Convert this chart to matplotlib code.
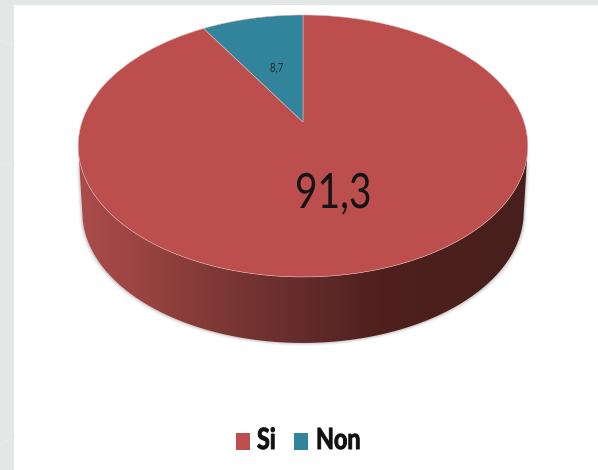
import numpy as np
import matplotlib
matplotlib.use("Agg")
import matplotlib.pyplot as plt
from matplotlib.colors import LinearSegmentedColormap
from matplotlib.patches import PathPatch, Rectangle
from matplotlib.path import Path
from matplotlib.patheffects import AbstractPathEffect
from matplotlib.transforms import Affine2D, Transform

categories = ["Si", "Non"]
values = [91.3, 8.7]
value_labels = ["91,3", "8,7"]
colors = ["#bc4f4e", "#31849b"]

W, H = 598, 470
K = 0.183


class Perspective(Transform):
    """Tilted-disc projection of the unit pie into pixel coordinates."""
    input_dims = output_dims = 2
    is_separable = False
    has_inverse = False

    def __init__(self, cx, cy, a, b, k):
        super().__init__()
        self.cx, self.cy, self.a, self.b, self.k = cx, cy, a, b, k

    def transform_non_affine(self, xy):
        xy = np.asarray(xy, float)
        d = 1 + self.k * xy[:, 1]
        return np.column_stack([self.cx + self.a * xy[:, 0] / d,
                                self.cy - self.b * xy[:, 1] / d])


class Narrow(AbstractPathEffect):
    """Condense glyphs horizontally, the reference's face being narrower."""

    def __init__(self, sx, stroke=0.0):
        super().__init__()
        self.sx = sx
        self.stroke = stroke

    def draw_path(self, renderer, gc, tpath, affine, rgbFace=None):
        gc0 = renderer.new_gc()
        gc0.copy_properties(gc)
        if self.stroke:
            gc0.set_linewidth(self.stroke)
            gc0.set_foreground(rgbFace)
        else:
            gc0.set_linewidth(0)
        renderer.draw_path(gc0, tpath.transformed(Affine2D().scale(self.sx, 1)), affine, rgbFace)
        gc0.restore()


top = Perspective(303, 122, 221, 126.6, K)
low = Perspective(303, 188, 217, 126.6, K)

fig = plt.figure(figsize=(W / 100, H / 100), dpi=100, facecolor="#e3e8e6")
ax = fig.add_axes([0, 0, 1, 1])

start = 90 + 360 * values[1] / sum(values)
wedges, _ = ax.pie(values, colors=colors, startangle=start, counterclock=True,
                   radius=1, wedgeprops=dict(edgecolor="#dcb4b2", linewidth=0.4))
ax.set_aspect("auto")
ax.axis("off")

# slide background
ax.add_patch(Rectangle((14, 5), W - 14, H, fc="white", ec="none", zorder=-10))
for y0, y1 in [(40, 47), (163, 164), (445, 437)]:
    ax.plot([0, 14], [y0, y1], color="#ebebe4", lw=1, zorder=-9)

# disc side wall
t = np.radians(np.linspace(0, 360, 721))
t = t[np.sin(t) <= -K]
circle = np.column_stack([np.cos(t), np.sin(t)])
circle = circle[np.argsort(circle[:, 0])]
top_pts = top.transform_non_affine(circle)
low_pts = low.transform_non_affine(circle)
wall = np.vstack([top_pts[::-1], low_pts])

# soft shadow around the wall
for grow, alpha in [(3.0, 0.05), (2.0, 0.08), (1.0, 0.14)]:
    sh = wall + np.array([0, grow])
    sh[:, 0] = 303 + (sh[:, 0] - 303) * (1 + grow / 220)
    ax.add_patch(PathPatch(Path(sh), fc="#505050", ec="none", alpha=alpha, zorder=0))

side_cmap = LinearSegmentedColormap.from_list(
    "side", ["#ab4c4b", "#96423f", "#7a3634", "#642c2b", "#4f201e", "#4b1f1c", "#47201c"])
grad = np.linspace(0, 1, 256)[None, :]
im = ax.imshow(grad, extent=(78, 528, 345, 130), cmap=side_cmap, aspect="auto", zorder=1)
ax.set_xlim(0, W)
ax.set_ylim(H, 0)
im.set_clip_path(Path(wall), ax.transData)

# top face
for w in wedges:
    w.set_transform(top + ax.transData)
    w.set_zorder(2)
    w.set_clip_on(False)


def label(x, y, s, size, sx, weight="normal", color="#141414", stroke=0.0):
    ax.text(x, y, s, fontsize=size, family="Lato", weight=weight, color=color,
            ha="left", va="baseline", zorder=3, path_effects=[Narrow(sx, stroke)])


label(295, 208, value_labels[0], 35, 0.8)
label(270, 72, value_labels[1], 9, 0.77, color="#1a2a30")

# legend
ax.add_patch(Rectangle((236, 433), 14, 17, fc=colors[0], ec="none"))
ax.add_patch(Rectangle((294, 433), 14, 17, fc=colors[1], ec="none"))
label(257, 449, categories[0], 21, 0.8, weight="bold", color="#111111", stroke=0.7)
label(316, 449, categories[1], 21, 0.8, weight="bold", color="#111111", stroke=0.7)

fig.savefig("out.png", dpi=100, facecolor=fig.get_facecolor())
